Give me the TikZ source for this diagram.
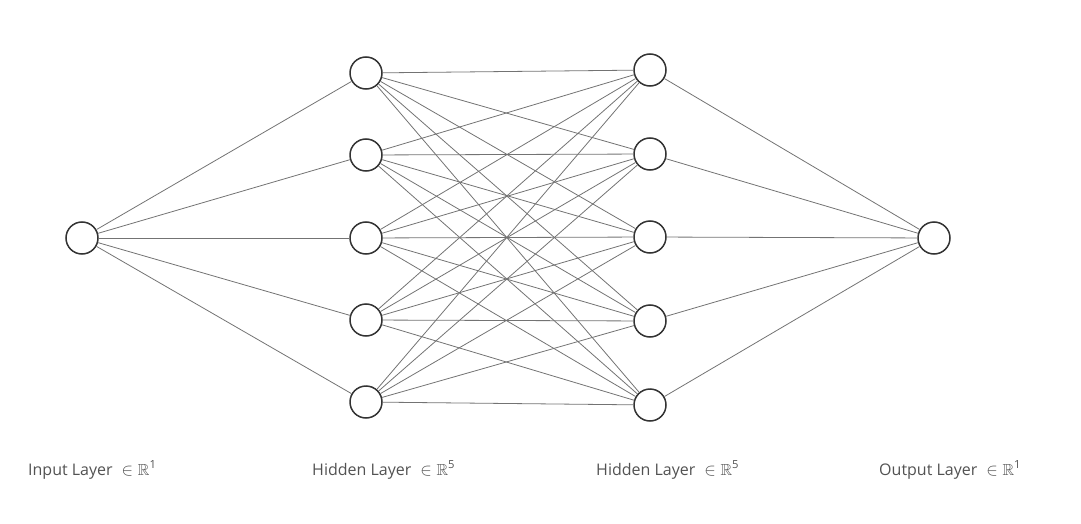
\documentclass[tikz,border=0pt]{standalone}
\usepackage{amssymb}
\usepackage{fontspec}
\setmainfont{Open Sans}
\begin{document}
\begin{tikzpicture}[x=1pt,y=-1pt,
  neuron/.style={circle,draw=black!80,line width=1.5pt,fill=white,minimum size=32pt,inner sep=0pt},
  conn/.style={draw=black!55,line width=0.8pt},
  lbl/.style={anchor=base west,inner sep=0pt,text=black!68,font=\fontsize{16}{19}\selectfont}]
\useasboundingbox (0,0) rectangle (1081,524);
\node[neuron] (i1) at (82,238) {};
\foreach \k/\y in {1/73,2/155,3/238,4/320,5/402} \node[neuron] (a\k) at (366,\y) {};
\foreach \k/\y in {1/70,2/154,3/237,4/321,5/405} \node[neuron] (b\k) at (650,\y) {};
\node[neuron] (o1) at (934,238) {};
\foreach \k in {1,...,5} {
  \draw[conn] (i1) -- (a\k);
  \draw[conn] (b\k) -- (o1);
  \foreach \j in {1,...,5} \draw[conn] (a\k) -- (b\j);
}
\node[lbl] (t1) at (28,475) {Input Layer ${}\in\mathbb{R}^{\mathrm{1}}$};
\node[lbl] (t2) at (312,475) {Hidden Layer ${}\in\mathbb{R}^{\mathrm{5}}$};
\node[lbl] (t3) at (596,475) {Hidden Layer ${}\in\mathbb{R}^{\mathrm{5}}$};
\node[lbl] (t4) at (879,475) {Output Layer ${}\in\mathbb{R}^{\mathrm{1}}$};
\end{tikzpicture}
\end{document}
